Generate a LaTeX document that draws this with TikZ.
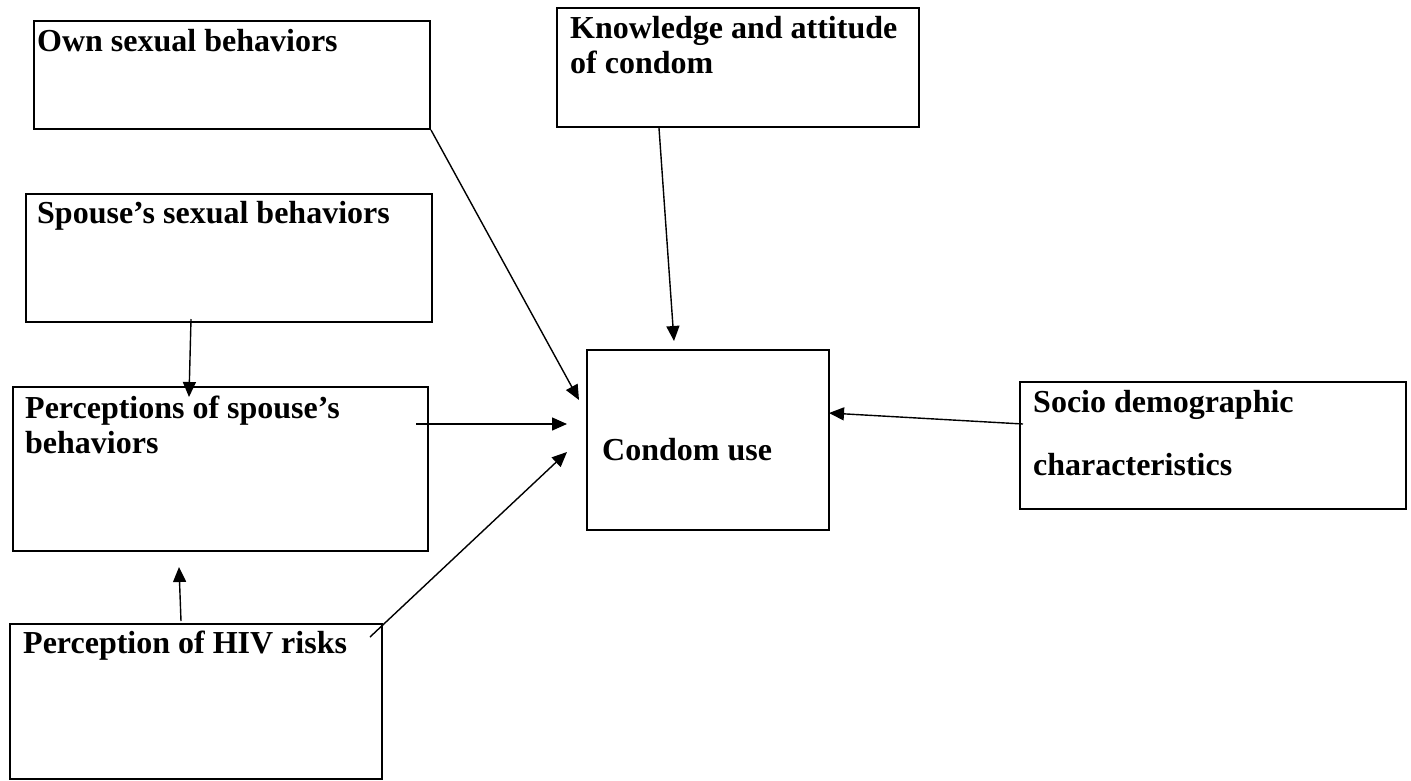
\documentclass[tikz,border=0pt]{standalone}
\usepackage{fontspec}
\setmainfont{Liberation Serif}
\usetikzlibrary{arrows.meta,calc}
\begin{document}
\begin{tikzpicture}[x=1pt,y=-1pt,
  box/.style={draw,line width=2pt,anchor=north west,inner sep=0pt},
  lbl/.style={anchor=base west,inner sep=0pt,font=\fontsize{32}{35}\selectfont\bfseries},
  conn/.style={line width=1.4pt,-{Triangle[length=15pt,width=13pt]}},
  plain/.style={line width=1.4pt}]
\useasboundingbox[fill=white] (0,0) rectangle (1411,780);
% boxes
\node[box,minimum width=396pt,minimum height=108pt] (own) at (33,20) {};
\node[box,minimum width=362pt,minimum height=119pt] (know) at (556,7) {};
\node[box,minimum width=406pt,minimum height=128pt] (spouse) at (25,193) {};
\node[box,minimum width=415pt,minimum height=164pt] (perc) at (12,386) {};
\node[box,minimum width=242pt,minimum height=180pt] (condom) at (586,349) {};
\node[box,minimum width=386pt,minimum height=127pt] (socio) at (1019,381) {};
\node[box,minimum width=372pt,minimum height=155pt] (hiv) at (9,623) {};
% labels
\node[lbl] (tOwn) at (37,51) {Own sexual behaviors};
\node[lbl] (tKnow1) at (570,38) {Knowledge and attitude};
\node[lbl] (tKnow2) at (570,73) {of condom};
\node[lbl] (tSp) at (37,223) {Spouse’s sexual behaviors};
\node[lbl] (tPerc1) at (25,418) {Perceptions of spouse’s};
\node[lbl] (tPerc2) at (25,453) {behaviors};
\node[lbl] (tCondom) at (602,460) {Condom use};
\node[lbl] (tSocio1) at (1033,412) {Socio demographic};
\node[lbl] (tSocio2) at (1033,475) {characteristics};
\node[lbl] (tHiv) at (23,653) {Perception of HIV risks};
% connectors
\coordinate (a1e) at ($(condom.north west)+(-7,51)$);
\draw[conn] (own.south east) -- (a1e);
\coordinate (a2s) at ($(know.south west)+(103,0)$);
\coordinate (a2e) at ($(condom.north west)+(88,-8)$);
\draw[conn] (a2s) -- (a2e);
\coordinate (a3s) at ($(spouse.south west)+(166,-4)$);
\coordinate (a3e) at ($(perc.north west)+(177,11)$);
\draw[conn] (a3s) -- (a3e);
\coordinate (a4s) at ($(perc.north east)+(-13,38)$);
\coordinate (a4e) at ($(condom.north west)+(-19,75)$);
\draw[conn] (a4s) -- (a4e);
\coordinate (a5s) at ($(hiv.north east)+(-13,14)$);
\coordinate (a5e) at ($(condom.north west)+(-19,103)$);
\draw[conn] (a5s) -- (a5e);
\coordinate (a6s) at ($(hiv.north west)+(172,-2)$);
\coordinate (a6e) at ($(perc.south west)+(167,15)$);
\draw[conn] (a6s) -- (a6e);
\coordinate (a7s) at ($(socio.north west)+(4,43)$);
\coordinate (a7e) at ($(condom.north east)+(-1,64)$);
\draw[conn] (a7s) -- (a7e);
\end{tikzpicture}
\end{document}
